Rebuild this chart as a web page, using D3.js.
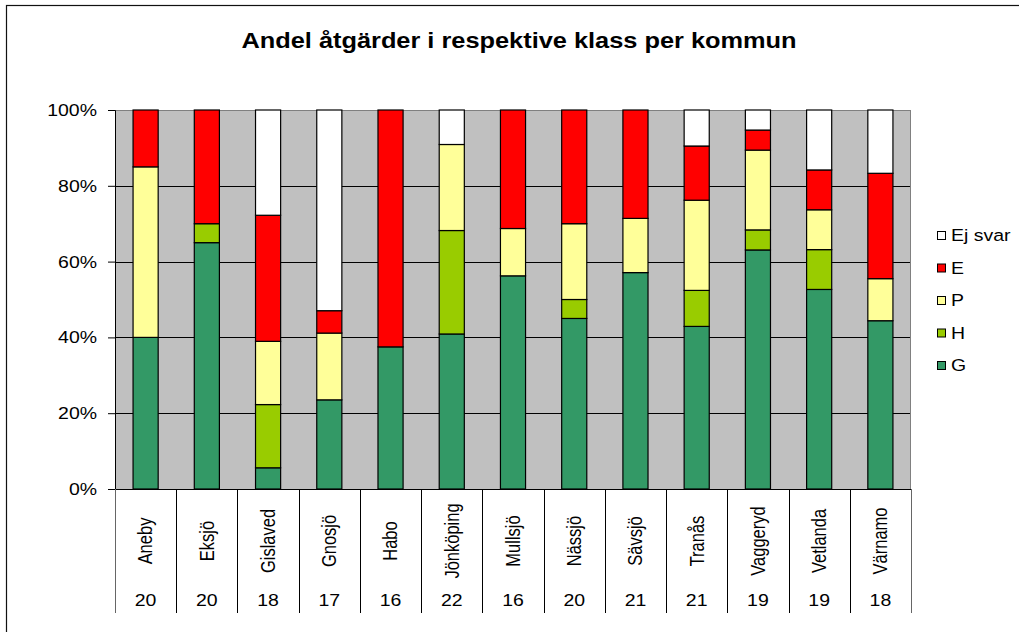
<!DOCTYPE html>
<html>
<head>
<meta charset="utf-8">
<script src="https://cdn.jsdelivr.net/npm/d3@7"></script>
<style>
  html, body { margin: 0; padding: 0; background: #fff; }
  svg { display: block; font-family: "Liberation Sans", Arial, Helvetica, sans-serif; }
</style>
</head>
<body>
<svg id="chart" width="1019" height="632"></svg>
<script>
// ---- data (percent of measures per class, per municipality) ----
const categories = ["Aneby","Eksjö","Gislaved","Gnosjö","Habo","Jönköping","Mullsjö","Nässjö","Sävsjö","Tranås","Vaggeryd","Vetlanda","Värnamo"];
const countLabels = ["20","20","18","17","16","22","16","20","21","21","19","19","18"];
const seriesG  = [40.0, 65.0,  5.6, 23.5, 37.5, 40.9, 56.3, 45.0, 57.1, 42.9, 63.2, 52.6, 44.4];
const seriesH  = [ 0.0,  5.0, 16.7,  0.0,  0.0, 27.3,  0.0,  5.0,  0.0,  9.5,  5.3, 10.5,  0.0];
const seriesP  = [45.0,  0.0, 16.7, 17.6,  0.0, 22.7, 12.5, 20.0, 14.3, 23.8, 21.1, 10.5, 11.1];
const seriesE  = [15.0, 30.0, 33.3,  5.9, 62.5,  0.0, 31.3, 30.0, 28.6, 14.3,  5.3, 10.5, 27.8];
const seriesEj = [ 0.0,  0.0, 27.8, 52.9,  0.0,  9.1,  0.0,  0.0,  0.0,  9.5,  5.3, 15.8, 16.7];
const seriesNames = ["G","H","P","E","Ej svar"];
const yTickValues = [0, 0.2, 0.4, 0.6, 0.8, 1.0];
const title = "Andel åtgärder i respektive klass per kommun";

const seriesColors = {"G":"#339966","H":"#99CC00","P":"#FFFF99","E":"#FF0000","Ej svar":"#FFFFFF"};
const seriesData = {"G":seriesG,"H":seriesH,"P":seriesP,"E":seriesE,"Ej svar":seriesEj};

const table = categories.map((c, i) => {
  const row = {cat: c};
  seriesNames.forEach(s => row[s] = seriesData[s][i]);
  return row;
});

// ---- layout ----
const SX = 1.18; // horizontal stretch of the reference's text
const svg = d3.select("#chart");
const plot = {left: 115, right: 911, top: 110, bottom: 489};

// outer chart border
svg.append("rect").attr("x", 6.5).attr("y", 5.5).attr("width", 1040).attr("height", 660)
  .attr("fill", "#fff").attr("stroke", "#111").attr("stroke-width", 1.2);

const x = d3.scaleBand().domain(categories).range([plot.left, plot.right]).paddingInner(0).paddingOuter(0);
const y = d3.scaleLinear().domain([0, 1]).range([plot.bottom, plot.top]);

// plot background
svg.append("rect").attr("x", plot.left).attr("y", plot.top)
  .attr("width", plot.right - plot.left).attr("height", plot.bottom - plot.top)
  .attr("fill", "#C0C0C0");

// gridlines
svg.append("g").selectAll("line").data(yTickValues.filter(v => v > 0 && v < 1)).join("line")
  .attr("x1", plot.left).attr("x2", plot.right)
  .attr("y1", d => Math.round(y(d)) + 0.5).attr("y2", d => Math.round(y(d)) + 0.5)
  .attr("stroke", "#000").attr("stroke-width", 1);

// plot border
svg.append("rect").attr("x", plot.left + 0.5).attr("y", plot.top + 0.5)
  .attr("width", plot.right - plot.left - 1).attr("height", plot.bottom - plot.top)
  .attr("fill", "none").attr("stroke", "#808080").attr("stroke-width", 1);

// stacked bars
const stack = d3.stack().keys(seriesNames).offset(d3.stackOffsetExpand);
const stacked = stack(table);
const barW = x.bandwidth() * 0.41;

svg.append("g").selectAll("g").data(stacked).join("g")
  .attr("fill", d => seriesColors[d.key])
  .selectAll("rect").data(d => d.filter(p => p[1] - p[0] > 0)).join("rect")
    .attr("x", d => x(d.data.cat) + x.bandwidth() / 2 - barW / 2)
    .attr("y", d => y(d[1]))
    .attr("width", barW)
    .attr("height", d => y(d[0]) - y(d[1]))
    .attr("stroke", "#000").attr("stroke-width", 1.2);

// y axis
const yAxis = d3.axisLeft(y).tickValues(yTickValues).tickFormat(d3.format(".0%")).tickSize(7).tickPadding(0);
const yg = svg.append("g").attr("transform", `translate(${plot.left},0)`).call(yAxis);
yg.select(".domain").attr("stroke", "#000");
yg.selectAll(".tick line").attr("stroke", "#000");
yg.selectAll(".tick text")
  .attr("x", null).attr("dy", null)
  .attr("font-size", 16.5).attr("fill", "#000")
  .attr("text-anchor", "end").attr("dominant-baseline", "central")
  .attr("transform", `translate(-18,0) scale(${SX},1)`);

// category axis (multi-level)
const xAxis = d3.axisBottom(x).tickSize(0).tickFormat("");
const xg = svg.append("g").attr("transform", `translate(0,${plot.bottom})`).call(xAxis);
xg.select(".domain").attr("stroke", "#000");

const bounds = categories.map(c => x(c)).concat([plot.right]);
svg.append("g").selectAll("line").data(bounds).join("line")
  .attr("x1", d => Math.round(d) + 0.5).attr("x2", d => Math.round(d) + 0.5)
  .attr("y1", plot.bottom).attr("y2", 613)
  .attr("stroke", (d, i) => (i === 0 || i === bounds.length - 1) ? "#666" : "#000")
  .attr("stroke-width", 1);

svg.append("g").selectAll("text").data(categories).join("text")
  .attr("transform", d => `translate(${x(d) + x.bandwidth() / 2},541) scale(${SX},1) rotate(-90)`)
  .attr("text-anchor", "middle").attr("dy", "0.35em")
  .attr("font-size", 16.5).attr("fill", "#000")
  .text(d => d);

svg.append("g").selectAll("text").data(countLabels).join("text")
  .attr("transform", (d, i) => `translate(${x(categories[i]) + x.bandwidth() / 2},606) scale(${SX},1)`)
  .attr("text-anchor", "middle")
  .attr("font-size", 16.5).attr("fill", "#000")
  .text(d => d);

// title
svg.append("text")
  .attr("transform", `translate(519,48) scale(${SX},1)`)
  .attr("text-anchor", "middle").attr("font-size", 21.5).attr("font-weight", "bold").attr("fill", "#000")
  .text(title);

// legend
const legendItems = seriesNames.slice().reverse();
const lg = svg.append("g").selectAll("g").data(legendItems).join("g")
  .attr("transform", (d, i) => `translate(0,${236 + i * 32.5})`);
lg.append("rect").attr("x", 937.5).attr("y", -4.5).attr("width", 8).attr("height", 8)
  .attr("fill", d => seriesColors[d]).attr("stroke", "#000").attr("stroke-width", 1);
lg.append("text")
  .attr("transform", `translate(951,0) scale(${SX},1)`)
  .attr("dominant-baseline", "central")
  .attr("font-size", 16.5).attr("fill", "#000")
  .text(d => d);
</script>
</body>
</html>
